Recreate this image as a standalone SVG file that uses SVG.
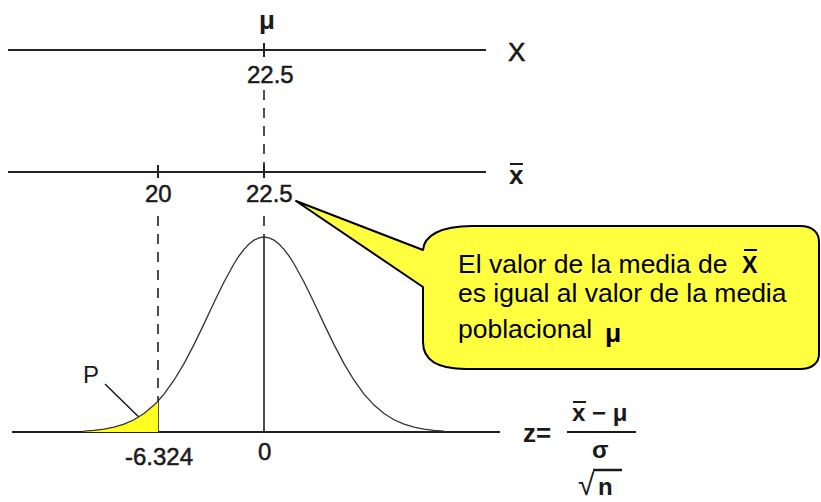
<svg xmlns="http://www.w3.org/2000/svg" width="821" height="502" viewBox="0 0 821 502">
<style>
.ax{stroke:#222;stroke-width:2;fill:none}
.dash{stroke:#222;stroke-width:1.6;stroke-dasharray:10 8;fill:none}
.num{font-family:"Liberation Sans",Arial,sans-serif;font-size:24px;fill:#1a1a1a;stroke:#1a1a1a;stroke-width:0.5}
.lbl{font-family:"Liberation Sans",Arial,sans-serif;font-size:26px;fill:#1a1a1a}
.b{font-weight:bold}
.call{font-family:"Liberation Sans",Arial,sans-serif;font-size:26.5px;fill:#000}
.bar{stroke:#1a1a1a;stroke-width:2}
</style>
<rect width="821" height="502" fill="#fff"/>
<g id="axes">
<line class="ax" x1="8" y1="50" x2="486" y2="50"/>
<line class="ax" x1="8" y1="172" x2="486" y2="172"/>
<line class="ax" x1="12" y1="432" x2="500" y2="432"/>
<line class="ax" x1="264" y1="43" x2="264" y2="57"/>
<line class="ax" x1="158" y1="165" x2="158" y2="178"/>
<line class="ax" x1="264" y1="165" x2="264" y2="178"/>
</g>
<g id="connectors">
<line class="dash" x1="264" y1="90" x2="264" y2="166"/>
<line class="dash" x1="264" y1="216" x2="264" y2="237"/>
<line class="dash" x1="158" y1="216" x2="158" y2="398"/>
<line class="ax" x1="264" y1="237" x2="264" y2="432" style="stroke-width:1.6"/>
<line class="ax" x1="158" y1="398" x2="158" y2="432" style="stroke-width:1.6"/>
<line x1="105" y1="384" x2="147" y2="425" stroke="#1a1a1a" stroke-width="1.5"/>
</g>
<g id="curve">
<path d="M84,432 L84,431.03 L94,430.28 L104,429.05 L114,427.11 L124,424.13 L134,419.75 L144,413.55 L154,405.12 L158,401.03 L158,432 Z" fill="#ffff22"/>
<path d="M84,431.03 L94,430.28 L104,429.05 L114,427.11 L124,424.13 L134,419.75 L144,413.55 L154,405.12 L158,401.03 L164,394.09 L174,380.25 L184,363.64 L194,344.60 L204,323.86 L214,302.51 L224,281.96 L234,263.72 L239,255.97 L244,249.36 L249,244.06 L254,240.17 L259,237.8 L264,237 L269,237.8 L274,240.17 L279,244.06 L284,249.36 L289,255.97 L294,263.72 L304,281.96 L314,302.51 L324,323.86 L334,344.60 L344,363.64 L354,380.25 L364,394.09 L374,405.12 L384,413.55 L394,419.75 L404,424.13 L414,427.11 L424,429.05 L434,430.28 L444,431.03" fill="none" stroke="#333" stroke-width="1.3"/>
</g>
<g id="labels">
<text class="lbl b" x="259" y="29">μ</text>
<text class="num" x="247" y="83">22.5</text>
<text class="lbl" x="508" y="61" style="stroke:#1a1a1a;stroke-width:0.6">X</text>
<text class="lbl b" x="509" y="184">x</text>
<line class="bar" x1="510" y1="164" x2="523" y2="164"/>
<text class="num" x="145" y="202">20</text>
<text class="num" x="246" y="202">22.5</text>
<text class="num" x="83" y="383" style="stroke-width:0">P</text>
<text class="num" x="125" y="465">-6.324</text>
<text class="num" x="258" y="460">0</text>
</g>
<g id="formula">
<text class="lbl b" x="523" y="442">z=</text>
<text class="num b" x="572" y="421" style="stroke-width:0">x − μ</text>
<line class="bar" x1="573" y1="402" x2="586" y2="402"/>
<line class="bar" x1="567" y1="432" x2="636" y2="432"/>
<text class="num b" x="592" y="458" style="stroke-width:0">σ</text>
<text class="num" x="578" y="495" style="font-size:30px;stroke-width:0">√</text>
<text class="num b" x="598" y="495" style="stroke-width:0">n</text>
<line class="bar" x1="593" y1="470" x2="622" y2="470" style="stroke-width:2.5"/>
</g>
<g id="callout">
<path d="M296,201 L423,250 C424,236 440,226 472,226 L800,226 C812,226 819,232 819,242 L819,354 C819,363 812,369 800,369 L466,369 C440,369 423,362 423,342 L423,287 Z" fill="#ffff40" stroke="#000" stroke-width="2" stroke-linejoin="round"/>
<text class="call" x="458" y="273">El valor de la media de</text>
<text class="call b" x="742" y="273" style="font-size:23px">X</text>
<line class="bar" x1="744" y1="250" x2="757" y2="250" style="stroke:#000"/>
<text class="call" x="458" y="302">es igual al valor de la media</text>
<text class="call" x="458" y="338">poblacional</text>
<text class="call b" x="605" y="342">μ</text>
</g>
</svg>
